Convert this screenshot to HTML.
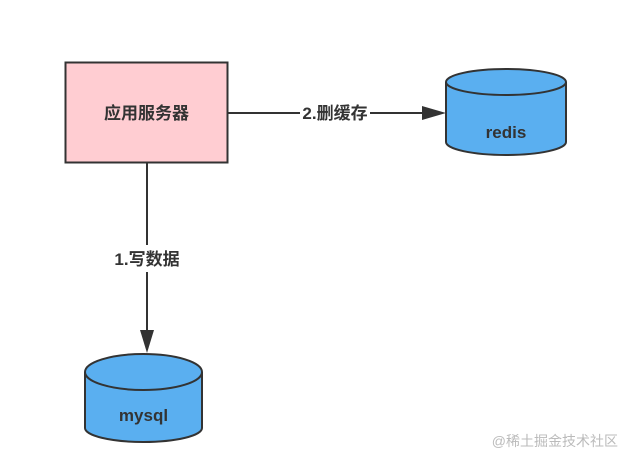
<!DOCTYPE html>
<html><head><meta charset="utf-8"><style>
html,body{margin:0;padding:0;background:#fff;width:626px;height:453px;overflow:hidden}
svg text{font-family:"Liberation Sans","Noto Sans CJK SC",sans-serif}
</style></head><body>
<svg width="626" height="453" viewBox="0 0 626 453" xmlns="http://www.w3.org/2000/svg">
<rect x="65.5" y="62.5" width="162" height="100" fill="#ffcdd2" stroke="#333" stroke-width="2"/>
<text x="146.5" y="119" font-size="17" font-weight="bold" fill="#333" text-anchor="middle">应用服务器</text>
<line x1="228" y1="113" x2="300" y2="113" stroke="#333" stroke-width="2"/>
<line x1="370" y1="113" x2="424" y2="113" stroke="#333" stroke-width="2"/>
<polygon points="422,106 446,113 422,120" fill="#333"/>
<text x="335" y="119" font-size="17" font-weight="bold" fill="#333" text-anchor="middle">2.删缓存</text>
<path d="M446,82 L446,142 A60,13 0 0 0 566,142 L566,82" fill="#5aaff0" stroke="#333" stroke-width="2"/>
<ellipse cx="506" cy="82" rx="60" ry="13" fill="#5aaff0" stroke="#333" stroke-width="2"/>
<text x="506" y="138" font-size="17" font-weight="bold" fill="#333" text-anchor="middle">redis</text>
<line x1="147" y1="162" x2="147" y2="245" stroke="#333" stroke-width="2"/>
<line x1="147" y1="272" x2="147" y2="332" stroke="#333" stroke-width="2"/>
<polygon points="140,330 147,353 154,330" fill="#333"/>
<text x="147" y="265" font-size="17" font-weight="bold" fill="#333" text-anchor="middle">1.写数据</text>
<path d="M85,372 L85,428 A58.5,14 0 0 0 202,428 L202,372" fill="#5aaff0" stroke="#333" stroke-width="2"/>
<ellipse cx="143.5" cy="372" rx="58.5" ry="18" fill="#5aaff0" stroke="#333" stroke-width="2"/>
<text x="143.5" y="421" font-size="17" font-weight="bold" fill="#333" text-anchor="middle">mysql</text>
<text x="618" y="446" font-size="14" fill="#bbb" text-anchor="end">@稀土掘金技术社区</text>
</svg>
</body></html>
